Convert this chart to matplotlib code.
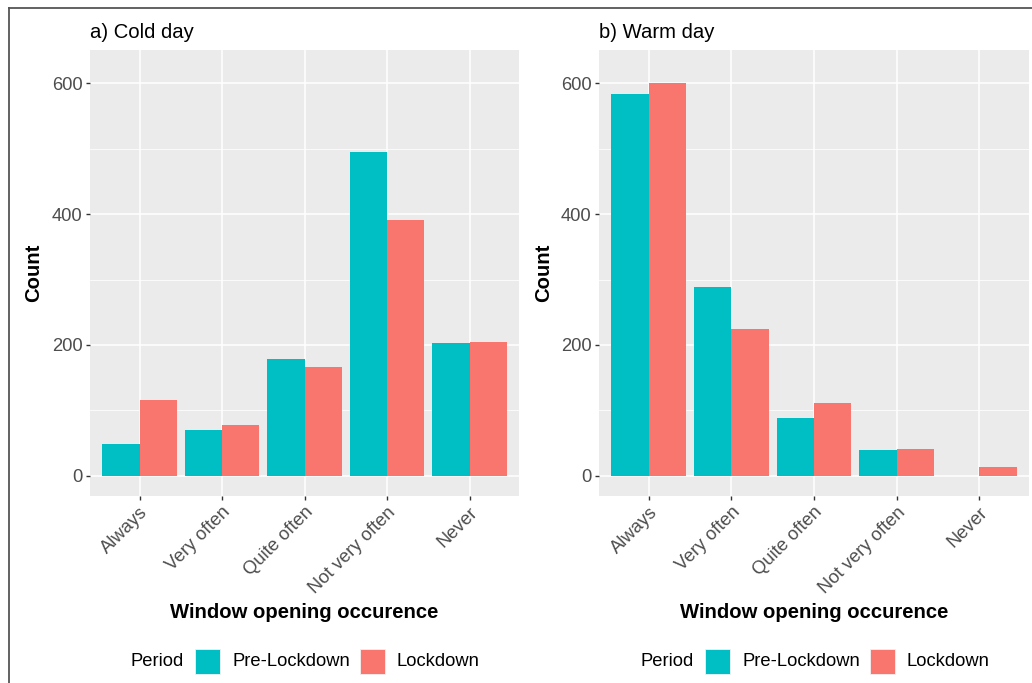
import matplotlib
matplotlib.use("Agg")
import matplotlib.pyplot as plt
import numpy as np
from matplotlib.patches import Rectangle
from matplotlib.lines import Line2D

plt.rcParams["font.family"] = ["Liberation Sans", "DejaVu Sans"]

# Survey responses: how often windows are opened
categories = ["Always", "Very often", "Quite often", "Not very often", "Never"]
periods = ["Pre-Lockdown", "Lockdown"]
cold_pre = [48, 70, 179, 495, 203]
cold_lock = [116, 78, 166, 391, 205]
warm_pre = [584, 288, 88, 40, 0]
warm_lock = [601, 225, 111, 41, 13]
panel_titles = ["a) Cold day", "b) Warm day"]
y_ticks = [0, 200, 400, 600]
y_minor = [100, 300, 500]

colors = {"Pre-Lockdown": "#00BFC4", "Lockdown": "#F8766D"}
panel_bg = "#EBEBEB"
text_gray = "#4D4D4D"

W, H = 1032, 683
fig = plt.figure(figsize=(W / 100, H / 100), dpi=100)
fig.patch.set_facecolor("white")


def fx(px):
    return px / W


def fy(py):
    return 1 - py / H


# (left px, width px, pre values, lockdown values, title, right edge of y label px)
panels = [
    (90, 429, cold_pre, cold_lock, panel_titles[0], 43),
    (599, 430, warm_pre, warm_lock, panel_titles[1], 553),
]
top_px, bot_px = 50, 496

for left, width, pre, lock, title, ylab_right in panels:
    ax = fig.add_axes([fx(left), fy(bot_px), width / W, (bot_px - top_px) / H])
    ax.set_facecolor(panel_bg)
    x = np.arange(len(categories)) + 1
    bw = 0.45
    ax.bar(x - bw / 2, pre, width=bw, color=colors["Pre-Lockdown"], linewidth=0, zorder=3)
    ax.bar(x + bw / 2, lock, width=bw, color=colors["Lockdown"], linewidth=0, zorder=3)

    ax.set_xlim(0.4, len(categories) + 0.6)
    ax.set_ylim(-31, 651)
    ax.set_xticks(x)
    ax.set_xticklabels(categories, rotation=45, ha="right", va="top",
                       rotation_mode="anchor", fontsize=13.2, color=text_gray)
    ax.set_yticks(y_ticks)
    ax.set_yticklabels([str(v) for v in y_ticks], fontsize=13.2, color=text_gray)
    ax.set_yticks(y_minor, minor=True)
    ax.tick_params(axis="y", which="minor", length=0)
    ax.tick_params(axis="both", which="major", length=3, width=1.0,
                   color="#333333", pad=2.5)

    ax.grid(True, which="major", color="white", linewidth=1.1, zorder=0)
    ax.grid(True, which="minor", axis="y", color="white", linewidth=0.55, zorder=0)
    ax.set_axisbelow(True)
    for s in ax.spines.values():
        s.set_visible(False)

    ax.set_ylabel("Count", fontsize=14.6, fontweight="bold", color="black")
    ax.yaxis.set_label_coords((ylab_right - left) / width, 0.5)
    ax.set_xlabel("Window opening occurence", fontsize=14.6, fontweight="bold",
                  color="black")
    ax.xaxis.set_label_coords(0.5, -(603 - bot_px) / (bot_px - top_px))
    ax.xaxis.label.set_va("top")

    fig.text(fx(left), fy(38), title, fontsize=14.6, ha="left", va="baseline",
             color="black")

# Legends below each panel
for off in (0, 510):
    fig.text(fx(130 + off), fy(662), "Period", fontsize=13.2, ha="left",
             va="center", color="black")
    for (kx, tx), name in zip([(195, 232), (360, 396)], periods):
        fig.patches.append(Rectangle((fx(kx + off), fy(674)), 25 / W, 25 / H,
                                     transform=fig.transFigure,
                                     facecolor=colors[name], edgecolor="#F2F2F2",
                                     linewidth=0.6))
        fig.text(fx(tx + off), fy(662), name, fontsize=13.2, ha="left",
                 va="center", color="black")

# Frame around the figure
fig.add_artist(Line2D([fx(9), fx(9)], [fy(8), 0], transform=fig.transFigure,
                      color="#555555", linewidth=1.3))
fig.add_artist(Line2D([fx(9), 1], [fy(8), fy(8)], transform=fig.transFigure,
                      color="#555555", linewidth=1.3))

fig.savefig("out.png", dpi=100)
